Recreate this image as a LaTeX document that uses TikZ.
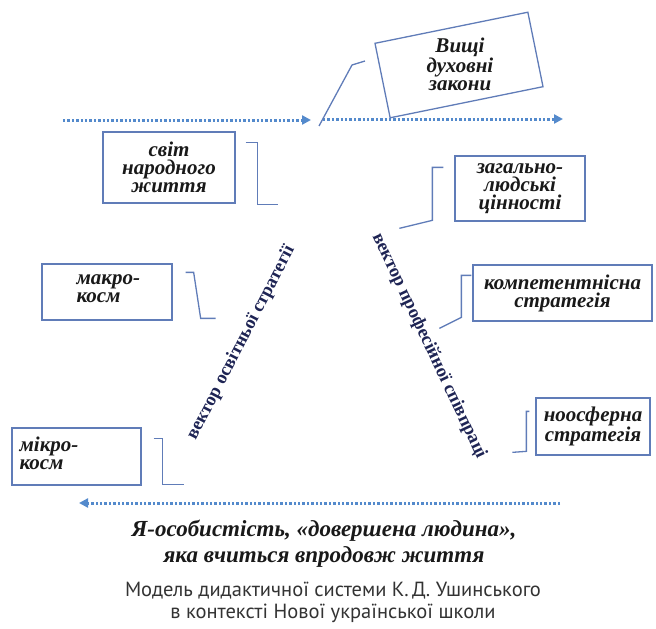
\documentclass[tikz,border=0pt]{standalone}
\usepackage{fontspec}
\setmainfont{Liberation Serif}
\newfontfamily\capfont{PT Sans}
\usetikzlibrary{arrows.meta}

\definecolor{boxblue}{RGB}{96,124,184}
\definecolor{dotblue}{RGB}{84,138,204}
\definecolor{vecnavy}{RGB}{30,36,84}

\begin{document}
\begin{tikzpicture}[x=1pt,y=-1pt]
	\tikzset{box/.style={draw=boxblue,line width=1.3pt,inner sep=0pt}}
	\tikzset{boxtext/.style={align=center,font=\fontsize{21}{18}\selectfont\bfseries\itshape,text=black!90}}
	\tikzset{link/.style={draw=boxblue,line width=1.3pt}}
	\tikzset{dotarrow/.style={draw=dotblue,line width=3pt,dash pattern=on 2.4pt off 2pt,-{Triangle[length=9pt,width=9pt]}}}
	\tikzset{vec/.style={font=\fontsize{18.5}{18}\selectfont\bfseries,text=vecnavy}}
	\useasboundingbox (0,0) rectangle (656,629);
	% arrows
	\coordinate (top1) at (63,120);
	\coordinate (top2) at (311,120);
	\coordinate (top3) at (323,119);
	\coordinate (top4) at (563,119);
	\coordinate (bot1) at (560,503);
	\coordinate (bot2) at (79,503);
	\draw[dotarrow] (top1) -- (top2);
	\draw[dotarrow] (top3) -- (top4);
	\draw[dotarrow] (bot1) -- (bot2);
	% boxes
	\node[box,rotate=11.5,minimum width=156pt,minimum height=76pt] (vframe) at (459,65) {};
	\node[boxtext] (vyshchi) at (460,64) {Вищі\\духовні\\закони};
	\node[box,boxtext,minimum width=132pt,minimum height=71pt] (svit) at (169,167.5) {світ\\народного\\життя};
	\node[box,boxtext,minimum width=130pt,minimum height=65pt] (zagal) at (520,188.5) {загально-\\людські\\цінності};
	\node[box,boxtext,minimum width=179pt,minimum height=56pt] (kompet) at (562.5,293) {компетентнісна\\стратегія};
	\node[box,boxtext,minimum width=114pt,minimum height=57pt] (noos) at (593,426.5) {ноосферна\\стратегія};
	\node[box,minimum width=130pt,minimum height=56pt] (makro) at (107,292) {};
	\node[boxtext,align=left,anchor=west] (makrot) at (73,289) {макро-\\косм};
	\node[box,minimum width=129pt,minimum height=57pt] (mikro) at (76.5,456.5) {};
	\node[boxtext,align=left,anchor=west] (mikrot) at (16,453) {мікро-\\косм};
	% brackets
	\draw[link] (top3) ++(-4,7) -- ++(33,-61) -- ++(13,-4);
	\draw[link] (svit.north east) ++(10,11) -- ++(12,0) -- ++(0,62) -- ++(20,0);
	\draw[link] (zagal.north west) ++(-11,12) -- ++(-11,0) -- ++(0,53) -- ++(-33,8);
	\draw[link] (kompet.north west) ++(-1,11) -- ++(-10,0) -- ++(0,42) -- ++(-22,11);
	\draw[link] (noos.north west) ++(-6,14) -- ++(-3,0) -- ++(0,40) -- ++(-14,1);
	\draw[link] (makro.north east) ++(13,9) -- ++(8,0) -- ++(7,46) -- ++(15,0);
	\draw[link] (mikro.north east) ++(12,11) -- ++(9,0) -- ++(0,46) -- ++(21,0);
	% vectors
	\node[vec,rotate=62.7] (osvit) at (241,343) {вектор освітньої стратегії};
	\node[vec,rotate=-64.8] (prof) at (429,346) {вектор професійної співпраці};
	% bottom
	\node[boxtext,font=\fontsize{23}{26}\selectfont\bfseries\itshape] (ya) at (324,544) {Я-особистість, «довершена людина»,\\яка вчиться впродовж життя};
	\node[align=center,font=\capfont\fontsize{20.5}{22}\selectfont,text=black!80] (cap) at (333,602) {Модель дидактичної системи К.\,Д.~Ушинського\\в контексті Нової української школи};
\end{tikzpicture}
\end{document}
